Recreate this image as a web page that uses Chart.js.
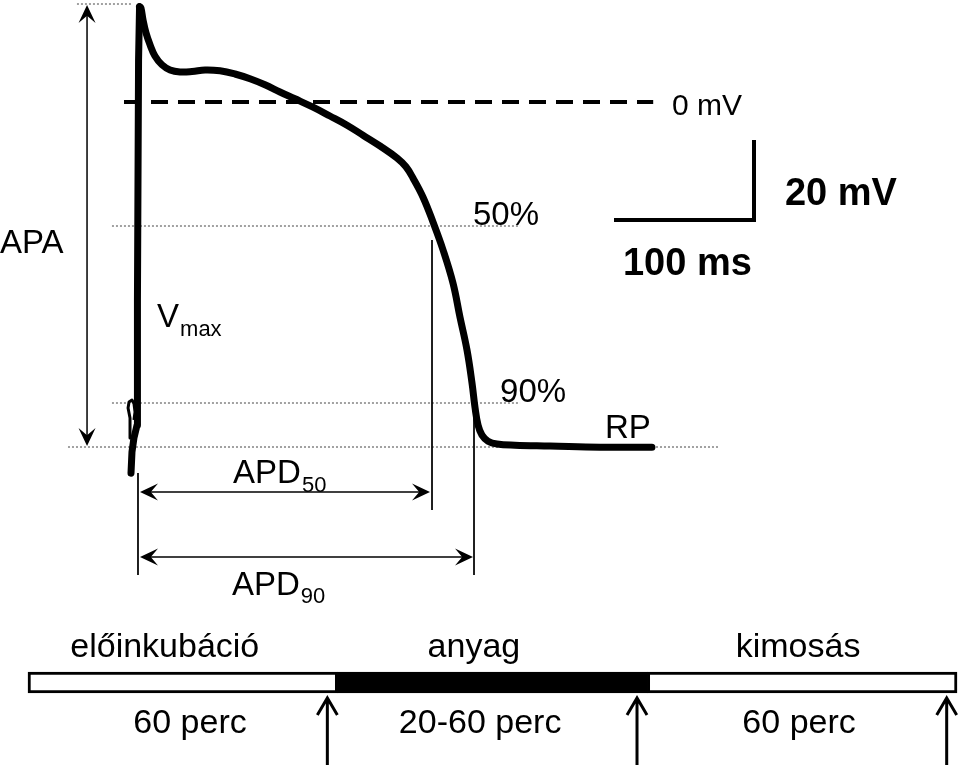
<!DOCTYPE html>
<html>
<head>
<meta charset="utf-8">
<script src="https://cdn.jsdelivr.net/npm/chart.js@4.4.0/dist/chart.umd.min.js"></script>
<style>
  html, body { margin: 0; padding: 0; background: #fff; }
  canvas { display: block; }
</style>
</head>
<body>
<canvas id="ap" width="960" height="765"></canvas>
<script>
// action potential: time from upstroke (ms), membrane potential (mV)
const apTime = [-5.0, -4.3, -2.9, -0.7, -0.4, 0.4, 1.1, 2.1, 3.6, 5.7, 8.6, 12.1, 17.1, 22.9, 30.0, 38.6,
  47.9, 58.6, 69.3, 80.0, 90.7, 101.4, 112.1, 125.0, 137.1, 149.3, 160.7, 172.9, 185.0, 191.4, 196.4, 203.6,
  210.7, 217.9, 225.0, 230.0, 235.0, 238.6, 240.7, 242.9, 245.7, 250.0, 256.4, 269.3, 294.3, 330.0, 367.1];
const apVolt = [-92.8, -87.5, -84.0, -80.8, -49.5, 10.5, 23.8, 23.5, 20.5, 17.3, 14.3, 11.5, 9.3, 8.0, 7.5, 7.6,
  8.0, 7.8, 7.0, 5.8, 4.3, 2.5, 0.8, -1.3, -3.5, -5.8, -8.3, -11.0, -14.0, -16.2, -19.0, -23.8,
  -30.0, -37.0, -45.3, -53.8, -62.0, -70.3, -76.3, -80.8, -83.3, -84.8, -85.5, -85.8, -86.0, -86.3, -86.3];
const peakIndex = 6;
// stimulus artefact loop just before the upstroke
const artTime = [-5.0, -5.7, -7.1, -6.4, -4.3, -2.9, -2.1, -2.9];
const artVolt = [-84.0, -79.0, -76.5, -75.0, -74.5, -75.3, -77.5, -79.5];

const peakMv = 24.5;
const restMv = -86.25;
const level50 = -31.0;
const level90 = -75.25;
const apd50 = 210;
const apd90 = 240;
const barMs = 100;
const barMv = 20;

// protocol timeline (minutes)
const phaseName = ['előinkubáció', 'anyag', 'kimosás'];
const phaseStart = [0, 60, 120];
const phaseEnd = [60, 120, 180];
const phaseDur = ['60 perc', '20-60 perc', '60 perc'];
const phaseFill = ['#ffffff', '#000000', '#ffffff'];
const recordAt = [58, 118, 178];

const FONT = '"Liberation Sans", Arial, sans-serif';

const pts = (xs, ys) => xs.map((v, i) => ({ x: v, y: ys[i] }));
const seg = (x1, y1, x2, y2) => [{ x: x1, y: y1 }, { x: x2, y: y2 }];

const lineDs = (data, width, extra) => Object.assign({
  type: 'line', data, borderColor: '#000', borderWidth: width, pointRadius: 0,
  tension: 0, fill: false, xAxisID: 'x', yAxisID: 'y'
}, extra || {});

const dotted = { borderColor: '#444', borderDash: [2, 2] };
const trace = pts(apTime, apVolt);

function head(ctx, tx, ty, dx, dy, len, half) {
  const bx = tx - dx * len, by = ty - dy * len;
  const nx = -dy, ny = dx;
  ctx.beginPath();
  ctx.moveTo(tx, ty);
  ctx.lineTo(bx + nx * half, by + ny * half);
  ctx.lineTo(tx - dx * len * 0.6, ty - dy * len * 0.6);
  ctx.lineTo(bx - nx * half, by - ny * half);
  ctx.closePath();
  ctx.fill();
}

function dblArrow(ctx, x1, y1, x2, y2) {
  const L = Math.hypot(x2 - x1, y2 - y1), dx = (x2 - x1) / L, dy = (y2 - y1) / L;
  ctx.lineWidth = 1.5;
  ctx.beginPath();
  ctx.moveTo(x1 + dx * 8, y1 + dy * 8);
  ctx.lineTo(x2 - dx * 8, y2 - dy * 8);
  ctx.stroke();
  head(ctx, x2, y2, dx, dy, 18, 8.5);
  head(ctx, x1, y1, -dx, -dy, 18, 8.5);
}

const annotate = {
  id: 'annotate',
  afterDatasetsDraw(chart) {
    const { ctx } = chart;
    const { x, y, xt, yt } = chart.scales;
    const X = v => x.getPixelForValue(v), Y = v => y.getPixelForValue(v);
    ctx.save();
    ctx.fillStyle = '#000';
    ctx.strokeStyle = '#000';

    // APA and APD arrows
    dblArrow(ctx, X(-36.4), Y(peakMv) + 1, X(-36.4), Y(restMv) - 1);
    dblArrow(ctx, X(0) + 2, Y(-97.5), X(apd50) - 2, Y(-97.5));
    dblArrow(ctx, X(0) + 2, Y(-113.75), X(apd90) - 1, Y(-113.75));

    const text = (s, px, py, size, align, bold) => {
      ctx.font = (bold ? 'bold ' : '') + size + 'px ' + FONT;
      ctx.textAlign = align || 'left';
      ctx.textBaseline = 'alphabetic';
      ctx.fillText(s, px, py);
      return ctx.measureText(s).width;
    };
    const sub = (main, s, px, py, drop) => {
      const w = text(main, px, py, 33);
      text(s, px + w + 1, py + drop, 22);
    };

    text('APA', X(-98.6), Y(-37.75), 33);
    sub('V', 'max', X(13.6), Y(-56.25), 9);
    text('50%', X(239.3), Y(-30.75), 33);
    text('90%', X(258.6), Y(-75.0), 33);
    text('RP', X(333.6), Y(-84.0), 33);
    text('0 mV', X(381.4), Y(-3.25), 30);
    text(barMv + ' mV', X(462.1), Y(-25.75), 38, 'left', true);
    text(barMs + ' ms', X(346.4), Y(-43.25), 38, 'left', true);
    sub('APD', '50', X(67.9), Y(-95.25), 9);
    sub('APD', '90', X(67.1), Y(-123.25), 8);

    // timeline labels
    const top = [26.5, 86.4, 149.2], bot = [31.4, 87.6, 149.4];
    phaseName.forEach((n, i) => text(n, xt.getPixelForValue(top[i]), yt.getPixelForValue(1.714), 34, 'center'));
    phaseDur.forEach((n, i) => text(n, xt.getPixelForValue(bot[i]), yt.getPixelForValue(-1.905), 34, 'center'));

    // recording arrows
    ctx.lineWidth = 3;
    ctx.lineCap = 'butt';
    recordAt.forEach(m => {
      const px = xt.getPixelForValue(m), tip = yt.getPixelForValue(-0.19), bottom = yt.getPixelForValue(-3.43);
      ctx.beginPath();
      ctx.moveTo(px, bottom);
      ctx.lineTo(px, tip + 1);
      ctx.moveTo(px - 10, tip + 18);
      ctx.lineTo(px, tip + 1);
      ctx.lineTo(px + 10, tip + 18);
      ctx.stroke();
    });
    ctx.restore();
  }
};

new Chart(document.getElementById('ap'), {
  type: 'line',
  data: {
    datasets: [
      lineDs(trace.slice(0, peakIndex + 1), 7, { borderJoinStyle: 'round', borderCapStyle: 'round' }),
      lineDs(trace.slice(peakIndex), 7, { borderJoinStyle: 'round', borderCapStyle: 'round', tension: 0.4 }),
      lineDs(pts(artTime, artVolt), 3, { borderJoinStyle: 'round' }),
      lineDs(seg(-10, 0, 368, 0), 4, { borderDash: [17, 10] }),
      lineDs([{ x: 340, y: -29.5 }, { x: 340 + barMs, y: -29.5 }, { x: 340 + barMs, y: -29.5 + barMv }], 4,
        { borderJoinStyle: 'miter' }),
      lineDs(seg(0, -92.75, 0, -118.25), 1),
      lineDs(seg(apd50, -34.5, apd50, -102), 1),
      lineDs(seg(apd90, -74.5, apd90, -118.25), 1),
      lineDs(seg(-43.6, peakMv, -3.6, peakMv), 1, dotted),
      lineDs(seg(-18.6, level50, 272.9, level50), 1, dotted),
      lineDs(seg(-18.6, level90, 272.9, level90), 1, dotted),
      lineDs(seg(-50, restMv, 415.7, restMv), 1, dotted),
      {
        type: 'bar', indexAxis: 'y', xAxisID: 'xt', yAxisID: 'yt',
        data: phaseStart.map((s, i) => ({ x: [s, phaseEnd[i]], y: 0.5 })),
        backgroundColor: phaseFill, borderColor: '#000', borderWidth: 3,
        borderSkipped: false, barThickness: 21, grouped: false
      }
    ]
  },
  options: {
    responsive: false,
    animation: false,
    events: [],
    layout: { padding: 0 },
    plugins: { legend: { display: false }, tooltip: { enabled: false }, title: { display: false } },
    scales: {
      x: { type: 'linear', axis: 'x', min: -98.57, max: 587.14, display: false },
      y: { type: 'linear', axis: 'y', min: -165.75, max: 25.5, display: false },
      xt: { type: 'linear', axis: 'x', min: -5.425, max: 180.58, display: false, offset: false },
      yt: { type: 'linear', axis: 'y', min: -3.43, max: 33, display: false, offset: false }
    }
  },
  plugins: [annotate]
});
</script>
</body>
</html>
